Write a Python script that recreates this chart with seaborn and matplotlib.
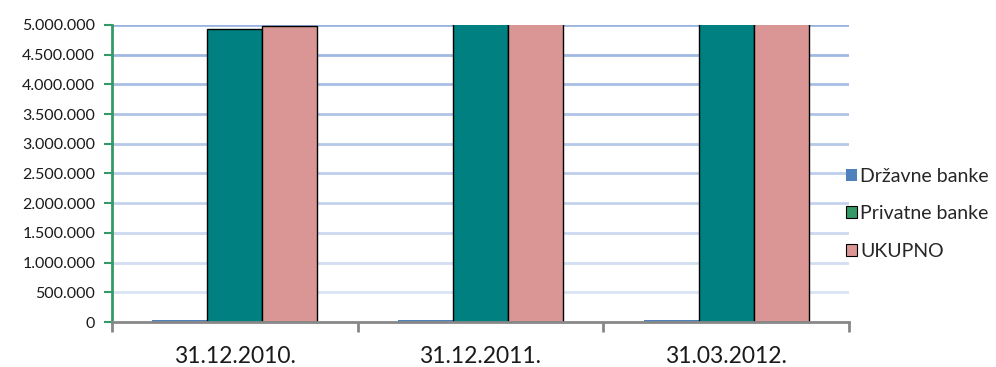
import matplotlib
matplotlib.use("Agg")
import matplotlib.pyplot as plt
from matplotlib.patches import Patch
from matplotlib.ticker import FuncFormatter, FixedLocator, MultipleLocator
import seaborn as sns
import pandas as pd
import numpy as np

# Data
dates = ["31.12.2010.", "31.12.2011.", "31.03.2012."]
series = ["Državne banke", "Privatne banke", "UKUPNO"]
drzavne = [40000, 40000, 40000]
privatne = [4935000, 5450000, 5600000]
ukupno = [4978000, 5490000, 5640000]

bar_colors = ["#4f81bd", "#008080", "#d99694"]
legend_colors = ["#4f81bd", "#339966", "#d99694"]

rows = []
for d, a, b, c in zip(dates, drzavne, privatne, ukupno):
    rows.append((d, series[0], a))
    rows.append((d, series[1], b))
    rows.append((d, series[2], c))
df = pd.DataFrame(rows, columns=["datum", "serija", "iznos"])

sns.set_style("white")
plt.rcParams["font.family"] = ["Lato", "DejaVu Sans"]

fig = plt.figure(figsize=(9.96, 3.67), dpi=100)
ax = fig.add_axes([0.1124, 0.1226, 0.7400, 0.8093])

sns.barplot(data=df, x="datum", y="iznos", hue="serija", order=dates,
            hue_order=series, palette=bar_colors, saturation=1,
            width=0.672, ax=ax, legend=False, zorder=3)

# Edges: no outline on the first series, black outline on the others
for container, name in zip(ax.containers, series):
    for patch in container:
        if name == series[0]:
            patch.set_edgecolor("none")
        else:
            patch.set_edgecolor("black")
            patch.set_linewidth(1.0)

ax.set_ylim(0, 5000000)
ax.set_xlim(-0.5, len(dates) - 0.5)

# Gridlines fading from light blue at the top to paler near the bottom
yt = np.arange(500000, 5000001, 500000)
top_c = np.array([0x9a, 0xb4, 0xe0]) / 255
bot_c = np.array([0xe0, 0xe8, 0xf5]) / 255
for v in yt:
    t = v / 5000000
    col = bot_c + (top_c - bot_c) * t
    ax.axhline(v, color=col, linewidth=2.0, zorder=1)

ax.yaxis.set_major_locator(MultipleLocator(500000))
ax.yaxis.set_major_formatter(FuncFormatter(lambda v, p: f"{int(v):,}".replace(",", ".")))
ax.tick_params(axis="y", direction="out", length=6, width=1.5, color="#339966",
               labelsize=11.5, labelcolor="#1a1a1a", pad=6, left=True)

ax.xaxis.set_minor_locator(FixedLocator([-0.5, 0.5, 1.5, 2.5]))
ax.tick_params(axis="x", which="major", length=0, labelsize=16.5,
               labelcolor="#1a1a1a", pad=17)
ax.tick_params(axis="x", which="minor", direction="out", length=7, width=2,
               color="#888888", bottom=True)

ax.set_xlabel("")
ax.set_ylabel("")

for s in ["top", "right"]:
    ax.spines[s].set_visible(False)
ax.spines["left"].set_color("#339966")
ax.spines["left"].set_linewidth(2)
ax.spines["bottom"].set_color("#888888")
ax.spines["bottom"].set_linewidth(2)
ax.spines["bottom"].set_zorder(4)

handles = []
for name, col in zip(series, legend_colors):
    ec = "none" if name == series[0] else "black"
    handles.append(Patch(facecolor=col, edgecolor=ec, linewidth=0.8, label=name))
fig.legend(handles=handles, loc="upper left", bbox_to_anchor=(0.849, 0.543),
           frameon=False, fontsize=14, handlelength=0.6, handleheight=0.6,
           handletextpad=0.15, labelspacing=1.05, borderpad=0, borderaxespad=0)

fig.savefig("out.png", dpi=100, facecolor="white")
